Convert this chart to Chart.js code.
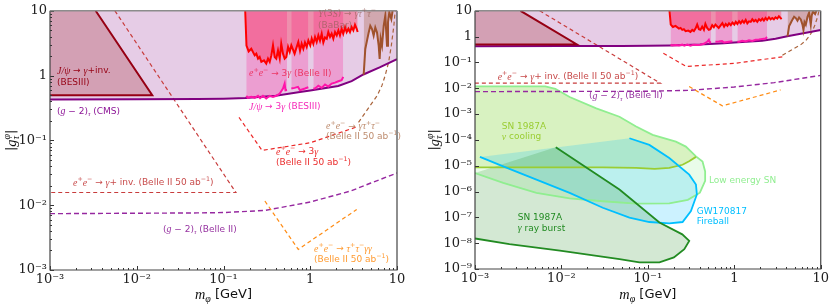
<!DOCTYPE html>
<html>
<head>
<meta charset="utf-8">
<script src="https://cdn.jsdelivr.net/npm/chart.js@4.4.0/dist/chart.umd.min.js"></script>
<style>
body { margin: 0; background: #fff; }
canvas { position: absolute; top: 0; }
#left { left: 0; }
#right { left: 410px; }
</style>
</head>
<body>
<canvas id="left" width="410" height="308"></canvas>
<canvas id="right" width="421" height="308"></canvas>
<script>
// tick values
const xTicks = [1e-3, 1e-2, 1e-1, 1, 10];
const yTicksLeft = [1e-3, 1e-2, 1e-1, 1, 10];
const yTicksRight = [1e-9, 1e-8, 1e-7, 1e-6, 1e-5, 1e-4, 1e-3, 1e-2, 1e-1, 1, 10];

// [m_phi (GeV), |g|] pairs
const cmsG2 = [[0.001,0.428],[0.01,0.43],[0.05,0.436],[0.1,0.44],[0.18,0.451],[0.4,0.49],[0.76,0.557],[1,0.59],[2.1,0.69],[3,0.82],[4.1,1.04],[6.3,1.34],[10,1.79]];
const jpsiInvEdge = [[0.00336,10],[0.0151,0.498],[0.001,0.498]];
const jpsiInvCorner = [[0.001,10]];
const belleInv = [[0.0056,10],[0.139,0.0157],[0.001,0.0157]];
const belleG2 = [[0.001,0.0074],[0.05,0.0076],[0.1,0.0077],[0.3,0.0083],[1,0.0112],[2.9,0.0165],[5,0.022],[10,0.0314]];
const belle3g50 = [[0.151,0.226],[0.278,0.07],[1,0.092],[3.6,0.165]];
const belleGtt = [[3.6,0.19],[4.9,0.345],[5.9,0.49],[6.7,0.7],[7.3,1.0],[8.0,1.6],[8.6,2.9],[9.2,5.9],[9.6,11]];
const belleTtgg = [[0.3,0.0116],[0.728,0.00208],[3.43,0.0086]];
const belle3g = [[0.178,10],[0.184,2.9],[0.195,2.36],[0.209,2.6],[0.229,2.05],[0.239,2.18],[0.25,1.83],[0.261,1.94],[0.273,1.63],[0.293,1.72],[0.311,1.53],[0.326,1.83],[0.341,1.63],[0.356,2.05],[0.372,2.93],[0.389,1.94],[0.406,1.83],[0.425,2.45],[0.445,1.83],[0.463,3.1],[0.485,2.18],[0.507,1.83],[0.53,1.94],[0.555,2.77],[0.58,2.32],[0.605,2.93],[0.66,2.18],[0.728,3.3],[0.762,2.42],[0.796,3.1],[0.832,2.6],[0.869,3.25],[0.91,2.77],[0.951,3.49],[1.0,2.93],[1.04,3.71],[1.085,3.1],[1.135,3.94],[1.186,3.3],[1.24,4.17],[1.295,3.46],[1.355,4.43],[1.415,3.25],[1.48,3.89],[1.55,3.71],[1.615,4.7],[1.69,3.94],[1.765,4.43],[1.845,3.71],[1.93,4.7],[2.02,4.17],[2.11,4.98],[2.2,4.17],[2.3,5.28],[2.4,4.43],[2.52,5.6],[2.63,4.7],[2.75,5.28],[2.87,4.7],[3.0,5.6],[3.14,4.98],[3.28,6.09],[3.43,5.28],[3.52,4.7]];
const besiii3g = [[0.183,0.488],[0.191,0.454],[0.209,0.47],[0.229,0.454],[0.25,0.488],[0.264,0.448],[0.285,0.488],[0.311,0.443],[0.341,0.488],[0.372,0.47],[0.406,0.488],[0.445,0.528],[0.463,0.573],[0.485,0.631],[0.507,0.753],[0.518,0.594],[0.54,0.6],[0.57,null],[0.605,0.631],[0.66,0.647],[0.722,0.67],[0.762,0.594],[0.869,0.631],[0.951,0.661],[1.0,null],[1.085,0.631],[1.135,0.631],[1.24,0.695],[1.355,0.647],[1.48,0.728],[1.615,0.678],[1.765,0.753],[1.93,0.78],[2.11,0.817],[2.3,0.847],[2.4,0.955]];
const babar = [[4.13,1.03],[4.31,2.58],[4.51,3.46],[4.72,4.64],[4.92,5.88],[5.15,5.23],[5.38,4.13],[5.62,5.53],[5.88,4.64],[6.15,2.9],[6.31,1.81],[6.49,3.67],[6.72,2.9],[7.03,5.88],[7.33,8.4],[7.67,2.9],[7.87,6.6],[8.15,9.4],[8.6,7.45],[8.9,10]];

// astrophysics (right panel)
const sneTop = [[0.001,0.0119],[0.0065,0.0119],[0.0085,0.0095],[0.01245,0.0046],[0.0253,0.00166],[0.0469,7.9e-4],[0.0731,3.3e-4],[0.1135,1.56e-4],[0.211,8.6e-5],[0.275,5.5e-5],[0.36,2.3e-5]];
const sneLower = [[0.36,2.3e-5],[0.429,1.46e-5],[0.46,6e-6],[0.46,2.6e-6],[0.4,9e-7],[0.29,4.8e-7],[0.177,3.5e-7],[0.0731,3.4e-7],[0.0301,4.2e-7],[0.01245,5.4e-7],[0.00514,8.9e-7],[0.00212,2.16e-6],[0.001,5.2e-6]];
const nuCoolBottom = [[0.36,2.2e-5],[0.3,1.5e-5],[0.252,1.09e-5],[0.177,8.2e-6],[0.12,7.6e-6],[0.073,8.2e-6],[0.03,8.6e-6],[0.001,8.6e-6]];
const gwEdge = [[0.00114,2.2e-5],[0.00212,9.4e-6],[0.00514,2.9e-6],[0.01245,8.9e-7],[0.0301,2.36e-7],[0.0612,9.7e-8],[0.104,6.6e-8],[0.177,5.9e-8],[0.252,6.6e-8],[0.315,1.75e-7],[0.369,7.7e-7],[0.36,1.86e-6],[0.301,4.5e-6],[0.177,1.98e-5],[0.104,6.4e-5],[0.0612,1.16e-4]];
const grbEdge = [[0.0086,5.2e-5],[0.0469,1.2e-6],[0.136,6.3e-8],[0.25,2.2e-8],[0.301,1.22e-8],[0.264,5.9e-9],[0.2,2.8e-9],[0.136,1.8e-9],[0.08,1.8e-9],[0.047,2.4e-9],[0.0096,5.1e-9],[0.0025,9.2e-9],[0.001,1.52e-8]];
const grbCorner = [[0.001,5.2e-6]];

const P = arr => arr.map(([x, y]) => ({x, y}));

function fillSet(data, color, fill) {
  return { data: P(data), fill: fill, backgroundColor: color, borderColor: 'transparent', borderWidth: 0 };
}
function lineSet(data, color, width, dash) {
  return { data: P(data), fill: false, borderColor: color, borderWidth: width, borderDash: dash || [] };
}

function terrestrial() {
  return {
    fills: [
      fillSet(cmsG2, 'rgba(128,0,128,0.2)', 'end'),
      fillSet(jpsiInvEdge.concat(jpsiInvCorner), 'rgba(139,0,0,0.22)', 'shape'),
      fillSet(besiii3g, 'rgba(255,20,147,0.25)', 'end'),
      fillSet(belle3g, 'rgba(255,0,40,0.3)', 'end'),
      fillSet(babar, 'rgba(160,82,45,0.3)', 'end')
    ],
    lines: [
      lineSet(belleG2, 'rgb(150,40,160)', 1.4, [5, 3]),
      lineSet(belleInv, 'rgb(200,60,60)', 1.2, [4, 3]),
      lineSet(belle3g50, 'rgb(235,40,40)', 1.2, [4, 3]),
      lineSet(belleGtt, 'rgb(170,100,60)', 1.2, [4, 3]),
      lineSet(belleTtgg, 'rgb(255,140,20)', 1.2, [4, 3]),
      lineSet(cmsG2, 'purple', 2),
      lineSet(jpsiInvEdge, 'rgb(150,0,20)', 2),
      lineSet(besiii3g, 'rgb(255,20,170)', 2),
      lineSet(belle3g, 'red', 2),
      lineSet(babar, 'sienna', 2)
    ]
  };
}

const SUP = {'-': '⁻', '0': '⁰', '1': '¹', '2': '²', '3': '³', '4': '⁴', '5': '⁵', '6': '⁶', '7': '⁷', '8': '⁸', '9': '⁹'};
function powLabel(v) {
  const e = Math.round(Math.log10(v));
  if (e === 0) return '1';
  if (e === 1) return '10';
  return '10' + String(e).split('').map(c => SUP[c]).join('');
}

// tiny markup: $..$ italic, ^{..} superscript, _{..} subscript
function parseRich(str) {
  const runs = [];
  let it = false, lvl = 0, buf = '';
  const push = () => { if (buf) runs.push({t: buf, it: it, lvl: lvl}); buf = ''; };
  for (let i = 0; i < str.length; i++) {
    const c = str[i];
    if (c === '$') { push(); it = !it; }
    else if ((c === '^' || c === '_') && str[i + 1] === '{') { push(); lvl = c === '^' ? 1 : -1; i++; }
    else if (c === '}' && lvl !== 0) { push(); lvl = 0; }
    else buf += c;
  }
  push();
  return runs;
}
function fontFor(it, fs) {
  return it ? 'italic ' + (fs * 1.1) + 'px "Liberation Serif"' : fs + 'px "DejaVu Sans"';
}
function drawRich(ctx, str, x, y, color, size, align, rot) {
  const runs = parseRich(str);
  let cx = 0, prev = null;
  for (const r of runs) {
    r.fs = r.lvl ? size * 0.7 : size;
    ctx.font = fontFor(r.it, r.fs);
    r.w = ctx.measureText(r.t).width;
    r.x = (prev && prev.lvl === 1 && r.lvl === -1) ? prev.x : cx;
    cx = Math.max(cx, r.x + r.w);
    prev = r;
  }
  ctx.save();
  ctx.translate(x, y);
  if (rot) ctx.rotate(rot);
  const x0 = align === 'center' ? -cx / 2 : 0;
  ctx.fillStyle = color;
  ctx.textBaseline = 'middle';
  ctx.textAlign = 'left';
  for (const r of runs) {
    ctx.font = fontFor(r.it, r.fs);
    const dy = r.lvl === 1 ? -0.38 * size : r.lvl === -1 ? 0.3 * size : 0;
    ctx.fillText(r.t, x0 + r.x, dy);
  }
  ctx.restore();
}

const decor = {
  id: 'decor',
  afterDatasetsDraw(chart, args, o) {
    const ctx = chart.ctx, a = chart.chartArea, xs = chart.scales.x, ys = chart.scales.y;
    ctx.save();
    ctx.strokeStyle = '#333';
    ctx.lineWidth = 1;
    ctx.beginPath();
    for (let d = -3; d <= 1; d++) {
      for (let k = 1; k <= 9; k++) {
        const v = k * Math.pow(10, d);
        if (v > xs.max * 1.0001) continue;
        const px = Math.round(xs.getPixelForValue(v)) + 0.5;
        const len = k === 1 ? 4 : 2;
        ctx.moveTo(px, a.bottom);
        ctx.lineTo(px, a.bottom - len);
      }
    }
    const lo = Math.round(Math.log10(ys.min)), hi = Math.round(Math.log10(ys.max));
    for (let d = lo; d <= hi; d++) {
      for (let k = 1; k <= (o.yMinor ? 9 : 1); k++) {
        const v = k * Math.pow(10, d);
        if (v > ys.max * 1.0001) continue;
        const py = Math.round(ys.getPixelForValue(v)) + 0.5;
        const len = k === 1 ? 4 : 2;
        ctx.moveTo(a.left, py);
        ctx.lineTo(a.left + len, py);
      }
    }
    ctx.stroke();

    // frame
    ctx.strokeStyle = '#444';
    ctx.lineWidth = 1.2;
    ctx.beginPath();
    ctx.moveTo(a.left, a.top);
    ctx.lineTo(a.left, a.bottom);
    ctx.lineTo(a.right, a.bottom);
    ctx.lineTo(a.right, a.top);
    ctx.stroke();
    ctx.strokeStyle = '#8c8c8c';
    ctx.lineWidth = 1.5;
    ctx.beginPath();
    ctx.moveTo(a.left, a.top);
    ctx.lineTo(a.right, a.top);
    ctx.stroke();

    for (const l of o.labels) drawRich(ctx, l.t, l.x, l.y, l.c, 9, 'left');
    drawRich(ctx, '$m$_{$φ$} [GeV]', (a.left + a.right) / 2, 295, '#111', 13, 'center');
    drawRich(ctx, '|$g$^{$φ$}_{$τ$}|', o.yTitleX, (a.top + a.bottom) / 2, '#111', 13, 'center', -Math.PI / 2);
    ctx.restore();
  }
};

function makeChart(id, sets, yTicks, yWidth, padRight, xHeight, opts) {
  const n = sets.length;
  sets.forEach((s, i) => {
    s.order = n - i;
    s.clip = 0;
    s.pointRadius = 0;
    s.spanGaps = false;
    s.tension = 0;
  });
  const tickFont = { family: 'DejaVu Serif', size: 13 };
  return new Chart(document.getElementById(id), {
    type: 'line',
    data: { datasets: sets },
    options: {
      responsive: false,
      animation: false,
      events: [],
      layout: { autoPadding: false, padding: { top: 10, right: padRight, left: 0, bottom: 0 } },
      plugins: { legend: { display: false }, tooltip: { enabled: false }, decor: opts },
      scales: {
        x: {
          type: 'logarithmic', min: 1e-3, max: 10,
          afterBuildTicks: s => { s.ticks = xTicks.map(v => ({ value: v })); },
          afterFit: s => { s.height = xHeight; },
          grid: { display: false, drawTicks: false },
          border: { display: false },
          ticks: { callback: v => powLabel(v), font: tickFont, color: '#222', padding: 2, maxRotation: 0, autoSkip: false }
        },
        y: {
          type: 'logarithmic', min: yTicks[0], max: 10,
          afterBuildTicks: s => { s.ticks = yTicks.map(v => ({ value: v })); },
          afterFit: s => { s.width = yWidth; },
          grid: { display: false, drawTicks: false },
          border: { display: false },
          ticks: { callback: v => powLabel(v), font: tickFont, color: '#222', padding: 3, autoSkip: false }
        }
      }
    },
    plugins: [decor]
  });
}

const BELLE50 = '(Belle II 50 ab^{−1})';

// left panel
const tl = terrestrial();
makeChart('left', tl.fills.concat(tl.lines), yTicksLeft, 50, 13, 38, {
  yMinor: true,
  yTitleX: 12,
  labels: [
    { x: 57, y: 71, t: '$J/ψ$ → $γ$+inv.', c: 'rgb(150,0,20)' },
    { x: 57, y: 82.5, t: '(BESIII)', c: 'rgb(150,0,20)' },
    { x: 57, y: 111.5, t: '($g$ − 2)_{$τ$} (CMS)', c: 'rgb(140,20,150)' },
    { x: 318, y: 14, t: '$Υ$(3$S$) → $γτ$^{+}$τ$^{−}', c: 'rgba(150,95,90,0.7)' },
    { x: 318, y: 26, t: '(BaBar)', c: 'rgba(150,95,90,0.7)' },
    { x: 249, y: 73.5, t: '$e$^{+}$e$^{−} → 3$γ$ (Belle II)', c: 'rgb(235,55,100)' },
    { x: 249, y: 107, t: '$J/ψ$ → 3$γ$ (BESIII)', c: 'rgb(245,40,185)' },
    { x: 326, y: 126.5, t: '$e$^{+}$e$^{−} → $γτ$^{+}$τ$^{−}', c: 'rgb(190,140,110)' },
    { x: 326, y: 137, t: BELLE50, c: 'rgb(190,140,110)' },
    { x: 276, y: 152, t: '$e$^{+}$e$^{−} → 3$γ$', c: 'rgb(235,45,45)' },
    { x: 276, y: 162.5, t: BELLE50, c: 'rgb(235,45,45)' },
    { x: 73, y: 183, t: '$e$^{+}$e$^{−} → $γ$+ inv. ' + BELLE50, c: 'rgb(200,75,75)' },
    { x: 163, y: 229.5, t: '($g$ − 2)_{$τ$} (Belle II)', c: 'rgb(150,50,160)' },
    { x: 314, y: 249, t: '$e$^{+}$e$^{−} → $τ$^{+}$τ$^{−}$γγ$', c: 'rgb(255,155,50)' },
    { x: 314, y: 259.5, t: BELLE50, c: 'rgb(255,155,50)' }
  ]
});

// right panel
const tr = terrestrial();
const astroFills = [
  fillSet(sneTop.concat(sneLower), 'rgba(144,238,144,0.2)', 'shape'),
  fillSet(sneTop.concat(nuCoolBottom), 'rgba(154,205,50,0.22)', 'shape'),
  fillSet(gwEdge, 'rgba(0,191,255,0.2)', 'shape'),
  fillSet(grbEdge.concat(grbCorner), 'rgba(34,139,34,0.2)', 'shape')
];
const astroLines = [
  lineSet(sneTop.concat(sneLower), 'rgb(144,238,144)', 1.8),
  lineSet(nuCoolBottom, 'yellowgreen', 1.8),
  lineSet(gwEdge, 'deepskyblue', 1.8),
  lineSet(grbEdge, 'forestgreen', 1.8)
];
makeChart('right', tr.fills.concat(astroFills, astroLines, tr.lines), yTicksRight, 65, 9, 39, {
  yMinor: false,
  yTitleX: 25,
  labels: [
    { x: 87.7, y: 77, t: '$e$^{+}$e$^{−} → $γ$+ inv. ' + BELLE50, c: 'rgb(200,75,75)' },
    { x: 179, y: 96, t: '($g$ − 2)_{$τ$} (Belle II)', c: 'rgb(150,50,160)' },
    { x: 91.7, y: 127, t: 'SN 1987A', c: 'yellowgreen' },
    { x: 91.7, y: 137, t: '$ν$ cooling', c: 'yellowgreen' },
    { x: 299, y: 181, t: 'Low energy SN', c: 'rgb(144,238,144)' },
    { x: 286.7, y: 212, t: 'GW170817', c: 'deepskyblue' },
    { x: 286.7, y: 222, t: 'Fireball', c: 'deepskyblue' },
    { x: 107.7, y: 217.5, t: 'SN 1987A', c: 'forestgreen' },
    { x: 107.7, y: 228.5, t: '$γ$ ray burst', c: 'forestgreen' }
  ]
});
</script>
</body>
</html>
